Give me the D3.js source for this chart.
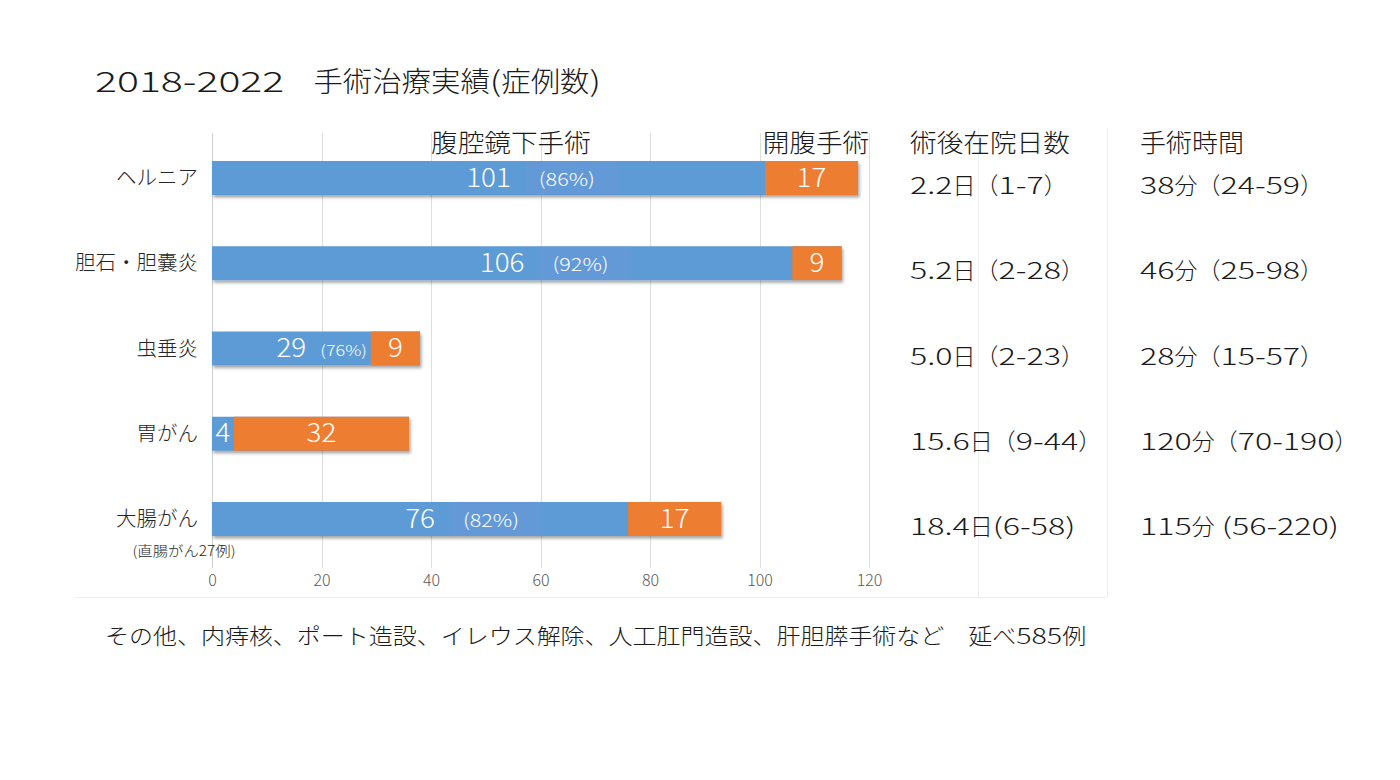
<!DOCTYPE html>
<html><head><meta charset="utf-8">
<script src="https://cdn.jsdelivr.net/npm/d3@7"></script>
<style>
html,body{margin:0;padding:0;background:#fff;}
svg{display:block;font-family:"Noto Sans CJK JP","Noto Sans",sans-serif;font-weight:300;}
</style></head>
<body>
<svg id="chart" width="1400" height="780"></svg>
<script>
const titleYears = "2018-2022";
const titleText = "　手術治療実績(症例数)";
const categories = ["ヘルニア", "胆石・胆嚢炎", "虫垂炎", "胃がん", "大腸がん"];
const laparoscopic = [101, 106, 29, 4, 76];
const openSurgery = [17, 9, 9, 32, 17];
const pctLabels = ["(86%)", "(92%)", "(76%)", "", "(82%)"];
const stayDays = ["2.2日（1-7）", "5.2日（2-28）", "5.0日（2-23）", "15.6日（9-44）", "18.4日(6-58)"];
const opTimes = ["38分（24-59）", "46分（25-98）", "28分（15-57）", "120分（70-190）", "115分 (56-220)"];
const xTicks = [0, 20, 40, 60, 80, 100, 120];
const seriesNames = ["腹腔鏡下手術", "開腹手術"];
const columnHeads = ["術後在院日数", "手術時間"];
const subNote = "(直腸がん27例)";
const footer = "その他、内痔核、ポート造設、イレウス解除、人工肛門造設、肝胆膵手術など　延べ585例";

const BLUE = "#5b9bd5", ORANGE = "#ed7d31", INK = "#1a1a1a";
const svg = d3.select("#chart");

// text helper: horizontally stretches latin and CJK runs separately
function stext(parent, str, o) {
  const t = parent.append("text").attr("x", o.x).attr("y", o.y)
    .attr("font-size", o.size).attr("fill", o.fill || INK)
    .attr("text-anchor", o.anchor || "start");
  const runs = String(str).match(/[\x20-\x7E]+|[^\x20-\x7E]+/g) || [];
  runs.forEach(r => {
    const latin = /^[\x20-\x7E]/.test(r);
    const k = latin ? (o.latin || 1) : (o.cjk || 1);
    const ts = t.append("tspan").text(r);
    if (k !== 1) {
      const w = ts.node().getComputedTextLength();
      ts.attr("textLength", w * k).attr("lengthAdjust", "spacingAndGlyphs");
    }
  });
  return t;
}

const defs = svg.append("defs");
const f = defs.append("filter").attr("id","shadow").attr("x","-5%").attr("y","-20%").attr("width","110%").attr("height","160%");
f.append("feDropShadow").attr("dx",1.5).attr("dy",2.5).attr("stdDeviation",1.5).attr("flood-color","#000").attr("flood-opacity",0.35);

const x = d3.scaleLinear().domain([0, 120]).range([212, 869]);
const y = d3.scalePoint().domain(categories).range([178, 519]);
const barH = 34;

// faint panel borders
const panel = svg.append("g").attr("stroke","#eeeeee").attr("stroke-width",1);
panel.append("line").attr("x1",978.5).attr("x2",978.5).attr("y1",128).attr("y2",597);
panel.append("line").attr("x1",1107.5).attr("x2",1107.5).attr("y1",128).attr("y2",597);
panel.append("line").attr("x1",75).attr("x2",1107).attr("y1",597.5).attr("y2",597.5);

// title
stext(svg, titleYears, {x: 95, y: 92, size: 28, latin: 1.465});
stext(svg, titleText, {x: 284, y: 92, size: 28, latin: 1.3, cjk: 1.05});

// grid
svg.append("g").selectAll("line").data(xTicks).join("line")
  .attr("x1", d => Math.round(x(d)) + 0.5).attr("x2", d => Math.round(x(d)) + 0.5)
  .attr("y1", 133).attr("y2", 568)
  .attr("stroke", d => d === 0 ? "#cfcfcf" : "#dedede").attr("stroke-width", 1);

// axis
const axis = svg.append("g").attr("transform","translate(0,568)")
  .call(d3.axisBottom(x).tickValues(xTicks).tickSize(0).tickPadding(7));
axis.select(".domain").remove();
axis.selectAll("text").attr("font-size",16).attr("fill","#595959")
  .attr("font-family","'Noto Sans CJK JP',sans-serif").attr("font-weight",300);

// series headers
stext(svg, seriesNames[0], {x: 511, y: 152, size: 25, cjk: 1.065, anchor: "middle"});
stext(svg, seriesNames[1], {x: 816, y: 152, size: 25, cjk: 1.065, anchor: "middle"});
// column heads
stext(svg, columnHeads[0], {x: 910, y: 152, size: 25, cjk: 1.065});
stext(svg, columnHeads[1], {x: 1140, y: 152, size: 25, cjk: 1.04});

// category labels
const catG = svg.append("g");
categories.forEach(c => stext(catG, c, {x: 198, y: y(c) + 7, size: 20.5, fill: "#262626", anchor: "end"}));
stext(svg, subNote, {x: 184, y: 556, size: 14, latin: 1.1, cjk: 1.1, fill: "#262626", anchor: "middle"});

// bars
const rows = categories.map((c,i) => ({c, a: laparoscopic[i], b: openSurgery[i], pct: pctLabels[i]}));
const row = svg.append("g").selectAll("g").data(rows).join("g");
row.append("rect").attr("x", x(0)).attr("y", d => y(d.c) - barH/2)
  .attr("width", d => x(d.a + d.b) - x(0)).attr("height", barH)
  .attr("fill", BLUE).attr("filter","url(#shadow)");
row.append("rect").attr("x", d => x(d.a)).attr("y", d => y(d.c) - barH/2)
  .attr("width", d => x(d.a + d.b) - x(d.a)).attr("height", barH).attr("fill", ORANGE);

row.each(function(d){
  const g = d3.select(this);
  const cy = y(d.c);
  const num = stext(g, d.a, {x: (x(0) + x(d.a)) / 2, y: cy + 8.5, size: 26, latin: 1.07, fill: "#fff", anchor: "middle"});
  stext(g, d.b, {x: (x(d.a) + x(d.a + d.b)) / 2, y: cy + 8.5, size: 26, latin: 1.07, fill: "#fff", anchor: "middle"});
  if (!d.pct) return;
  const nb = num.node().getBBox();
  const right = nb.x + nb.width;
  const small = d.a < 40;
  const fs = small ? 15 : 18;
  const start = right + (small ? 14 : 28);
  const t = stext(g, d.pct, {x: start, y: cy + 7.5, size: fs, latin: 1.2, fill: "#fff"});
  if (!small) {
    const tb = t.node().getBBox();
    g.insert("rect", "text").attr("x", start - 14).attr("y", cy - barH/2)
      .attr("width", tb.width + 36).attr("height", barH).attr("fill","#8a90e6").attr("opacity",0.16);
  }
});

// right columns
const colG = svg.append("g");
stayDays.forEach((s,i) => stext(colG, s, {x: 910, y: y(categories[i]) + 16, size: 23, latin: 1.4}));
opTimes.forEach((s,i) => stext(colG, s, {x: 1140, y: y(categories[i]) + 16, size: 23, latin: 1.4}));

// footer
stext(svg, footer, {x: 105, y: 644, size: 22, latin: 1.3, cjk: 1.09});
</script>
</body></html>
